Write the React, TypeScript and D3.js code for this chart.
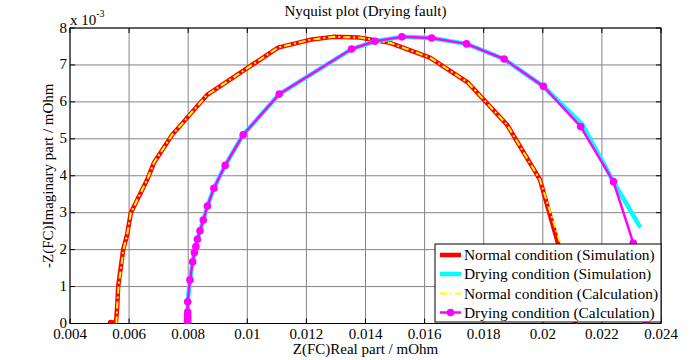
import React from "react";
import * as d3 from "d3";

const W = 692;
const H = 360;

const xTicks = [0.004, 0.006, 0.008, 0.01, 0.012, 0.014, 0.016, 0.018, 0.02, 0.022, 0.024];
const xTickLabels = ["0.004", "0.006", "0.008", "0.01", "0.012", "0.014", "0.016", "0.018", "0.02", "0.022", "0.024"];
const yTicks = [0, 1, 2, 3, 4, 5, 6, 7, 8];

// Imaginary values in units of 1e-3 mOhm
const normalSimX = [0.00538, 0.00548, 0.00556, 0.0056, 0.00563, 0.0058, 0.00593, 0.00606, 0.00661, 0.00684, 0.00745, 0.00864, 0.00992, 0.01104, 0.01212, 0.0129, 0.01381, 0.01483, 0.01618, 0.01747, 0.01879, 0.0199, 0.02051, 0.02085, 0.0211];
const normalSimY = [0.02, 0.03, 0.05, 0.5, 1.0, 2.0, 2.4, 3.0, 3.89, 4.35, 5.1, 6.19, 6.87, 7.47, 7.68, 7.76, 7.74, 7.6, 7.2, 6.52, 5.38, 3.9, 2.18, 1.0, 0.0];

const normalCalcX = [0.00557, 0.0056, 0.00564, 0.00581, 0.00593, 0.00606, 0.00661, 0.00684, 0.00745, 0.00864, 0.00992, 0.01104, 0.01212, 0.0129, 0.01381, 0.01483, 0.01618, 0.01747, 0.01879, 0.0199, 0.02058, 0.02092, 0.02115];
const normalCalcY = [0.0, 0.5, 1.0, 2.0, 2.4, 3.0, 3.89, 4.35, 5.1, 6.19, 6.87, 7.47, 7.68, 7.76, 7.74, 7.6, 7.2, 6.52, 5.38, 3.9, 2.2, 1.0, 0.0];

const dryingSimX = [0.007976, 0.007983, 0.007983, 0.007983, 0.00806, 0.00815, 0.00821, 0.00826, 0.00831, 0.0084, 0.00851, 0.00865, 0.00887, 0.00925, 0.00986, 0.01108, 0.01353, 0.01432, 0.01523, 0.01624, 0.01742, 0.01869, 0.02002, 0.02133, 0.02239, 0.0233];
const dryingSimY = [0.0, 0.09, 0.31, 0.59, 1.18, 1.67, 1.92, 2.08, 2.28, 2.51, 2.8, 3.18, 3.66, 4.28, 5.11, 6.21, 7.43, 7.64, 7.76, 7.73, 7.57, 7.16, 6.42, 5.4, 3.84, 2.6];

const dryingCalcX = [0.007976, 0.007976, 0.007979, 0.007983, 0.007983, 0.007983, 0.007983, 0.00806, 0.00815, 0.00821, 0.00826, 0.00831, 0.0084, 0.00851, 0.00865, 0.00887, 0.00925, 0.00986, 0.01108, 0.01353, 0.01432, 0.01523, 0.01624, 0.01742, 0.01869, 0.02002, 0.02128, 0.02239, 0.02306, 0.0235];
const dryingCalcY = [0.0, 0.05, 0.1, 0.17, 0.24, 0.31, 0.59, 1.18, 1.67, 1.92, 2.08, 2.28, 2.51, 2.8, 3.18, 3.66, 4.28, 5.11, 6.21, 7.43, 7.64, 7.76, 7.73, 7.57, 7.16, 6.42, 5.33, 3.84, 2.18, 0.0];

const legendLabels = [
  "Normal condition (Simulation)",
  "Drying condition (Simulation)",
  "Normal condition (Calculation)",
  "Drying condition (Calculation)",
];

const TXT = { fontFamily: '"Liberation Serif"' };
const FS = 15;

export default function App() {
  const left = 70, right = 661, top = 28, bottom = 323.5;
  const x = d3.scaleLinear().domain([0.004, 0.024]).range([left, right]);
  const y = d3.scaleLinear().domain([0, 8]).range([bottom, top]);

  const line = d3
    .line<[number, number]>()
    .x((d) => x(d[0]))
    .y((d) => y(d[1]));

  const zip = (a: number[], b: number[]) => a.map((v, i) => [v, b[i]] as [number, number]);

  const ns = zip(normalSimX, normalSimY);
  const nc = zip(normalCalcX, normalCalcY);
  const ds = zip(dryingSimX, dryingSimY);
  const dc = zip(dryingCalcX, dryingCalcY);

  const lg = { x: 435, y: 244, w: 226, h: 78 };
  const rowY = [255, 274, 293.5, 312.5];

  return (
    <svg width={W} height={H} style={{ position: "absolute", left: 0, top: 0, background: "#fff" }}>
      <defs>
        <clipPath id="plotclip">
          <rect x={left} y={top} width={right - left} height={bottom - top} />
        </clipPath>
      </defs>
      <rect x={0} y={0} width={W} height={H} fill="#fff" />
      {/* grid */}
      {xTicks.map((t) => (
        <line key={"gx" + t} x1={x(t)} x2={x(t)} y1={top} y2={bottom} stroke="#848484" strokeWidth={1} />
      ))}
      {yTicks.map((t) => (
        <line key={"gy" + t} x1={left} x2={right} y1={y(t)} y2={y(t)} stroke="#848484" strokeWidth={1} />
      ))}
      {/* ticks inward */}
      {xTicks.map((t) => (
        <g key={"tx" + t}>
          <line x1={x(t)} x2={x(t)} y1={bottom} y2={bottom - 5} stroke="#000" />
          <line x1={x(t)} x2={x(t)} y1={top} y2={top + 5} stroke="#000" />
        </g>
      ))}
      {yTicks.map((t) => (
        <g key={"ty" + t}>
          <line x1={left} x2={left + 5} y1={y(t)} y2={y(t)} stroke="#000" />
          <line x1={right} x2={right - 5} y1={y(t)} y2={y(t)} stroke="#000" />
        </g>
      ))}
      <rect x={left} y={top} width={right - left} height={bottom - top} fill="none" stroke="#000" strokeWidth={1} />

      {/* series */}
      <g clipPath="url(#plotclip)">
        <path d={line(ns) || ""} fill="none" stroke="#ff0000" strokeWidth={4.5} strokeLinejoin="round" />
        <circle cx={x(normalSimX[0])} cy={y(normalSimY[0])} r={3} fill="#ff0000" />
        <path d={line(ds) || ""} fill="none" stroke="#00ffff" strokeWidth={4.5} strokeLinejoin="round" />
        <path d={line(nc) || ""} fill="none" stroke="#ffff00" strokeWidth={2} strokeDasharray="7 3 2 3" />
        <path d={line(dc) || ""} fill="none" stroke="#ff00ff" strokeWidth={2.5} strokeLinejoin="round" />
        {dc.map((d, i) => (
          <circle key={"dc" + i} cx={x(d[0])} cy={y(d[1])} r={3.8} fill="#ff00ff" />
        ))}
      </g>

      {/* tick labels */}
      {xTicks.map((t, i) => (
        <text key={"xl" + t} x={x(t)} y={339} textAnchor="middle" fontSize={FS} fill="#000" style={TXT}>
          {xTickLabels[i]}
        </text>
      ))}
      {yTicks.map((t) => (
        <text key={"yl" + t} x={left - 3} y={y(t) + 4.5} textAnchor="end" fontSize={FS} fill="#000" style={TXT}>
          {t}
        </text>
      ))}
      <text x={70} y={25} fontSize={FS} fill="#000" style={TXT}>
        x 10
        <tspan dy={-8} fontSize={10} style={TXT}>-3</tspan>
      </text>

      {/* title & labels */}
      <text x={(left + right) / 2} y={16} textAnchor="middle" fontSize={FS} fill="#000" style={TXT}>
        Nyquist plot (Drying fault)
      </text>
      <text x={(left + right) / 2} y={354} textAnchor="middle" fontSize={FS} fill="#000" style={TXT}>
        Z(FC)Real part / mOhm
      </text>
      <text
        transform={`translate(53, ${(top + bottom) / 2}) rotate(-90)`}
        textAnchor="middle"
        fontSize={FS}
        fill="#000"
        style={TXT}
      >
        -Z(FC)Imaginary part / mOhm
      </text>

      {/* legend */}
      <rect x={lg.x} y={lg.y} width={lg.w} height={lg.h} fill="#fff" stroke="#000" strokeWidth={1} />
      <line x1={440} x2={461} y1={rowY[0]} y2={rowY[0]} stroke="#ff0000" strokeWidth={4.5} />
      <line x1={440} x2={461} y1={rowY[1]} y2={rowY[1]} stroke="#00ffff" strokeWidth={4.5} />
      <line x1={440} x2={461} y1={rowY[2]} y2={rowY[2]} stroke="#ffff00" strokeWidth={2} strokeDasharray="7 3 2 3" />
      <line x1={440} x2={461} y1={rowY[3]} y2={rowY[3]} stroke="#ff00ff" strokeWidth={2.5} />
      <circle cx={450.5} cy={rowY[3]} r={3.8} fill="#ff00ff" />
      {legendLabels.map((l, i) => (
        <text key={l} x={464} y={rowY[i] + 5} fontSize={15.4} fill="#000" style={TXT}>
          {l}
        </text>
      ))}
    </svg>
  );
}
